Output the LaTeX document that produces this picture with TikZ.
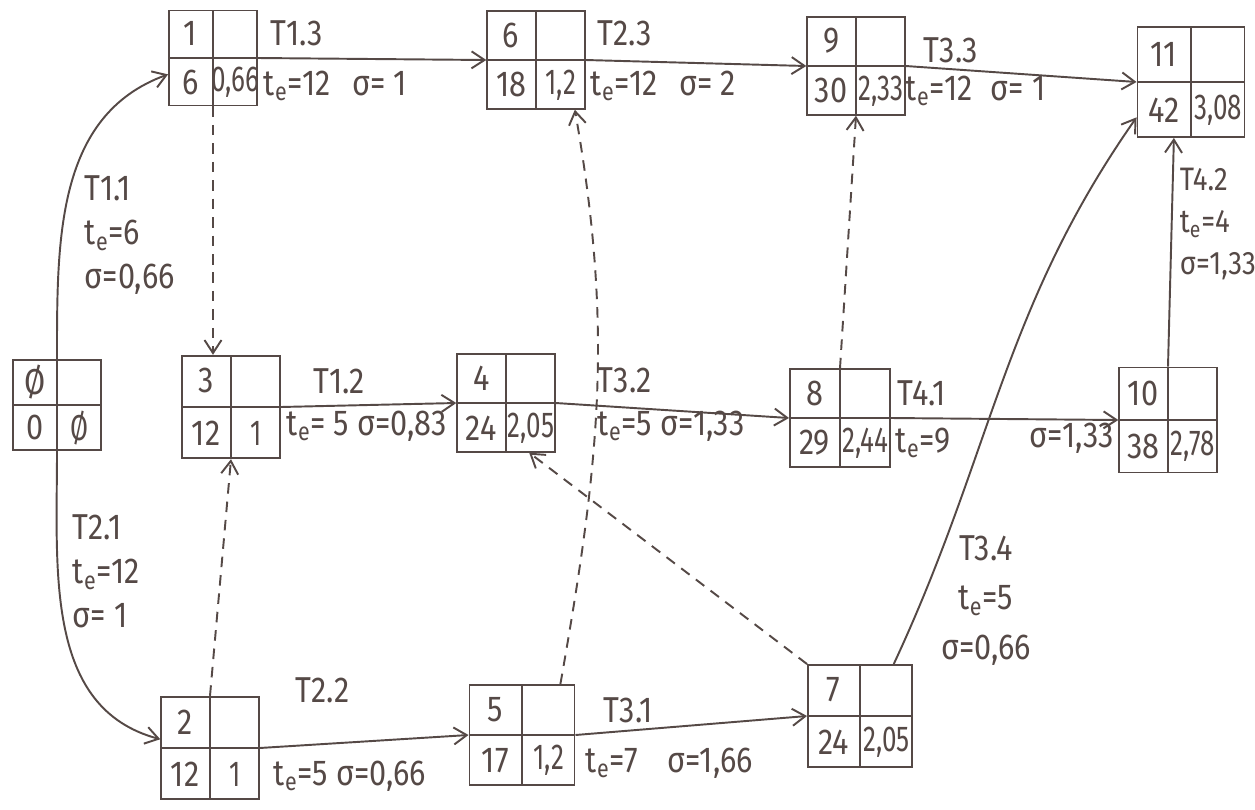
\documentclass[tikz,border=0pt]{standalone}
\usepackage{fontspec}
\setmainfont{Fira Sans}[FakeStretch=0.85]
\usepackage{xcolor}
\usetikzlibrary{arrows.meta,calc,positioning}

\definecolor{pencil}{HTML}{554946}

% one event: 2x2 box with number, earliest time and deviation
\newcommand{\pertevent}[6][]{%
  \node[event,#1] (#2) at (#3) {};
  \node[cell] (#2-id) at ($(#2.center)!0.5!(#2.north west)$) {#4};
  \node[cell] (#2-te) at ($(#2.center)!0.5!(#2.south west)$) {#5};
  \node[cell] (#2-sd) at ($(#2.center)!0.5!(#2.south east)$) {\scalebox{0.85}[1]{#6}};
}

\begin{document}
\begin{tikzpicture}[x=0.02cm, y=-0.02cm, >={Straight Barb[length=2.6mm,width=3.4mm]},
    color=pencil, line width=1.1pt,
    every node/.style={font=\fontsize{20.5}{25}\selectfont},
    event/.style={draw, minimum width=1.95cm, minimum height=1.95cm, inner sep=0pt,
      path picture={\draw (path picture bounding box.north) -- (path picture bounding box.south);
                    \draw (path picture bounding box.west) -- (path picture bounding box.east);}},
    cell/.style={inner sep=0pt},
    lbl/.style={inner sep=0pt, anchor=west},
    block/.style={inner sep=0pt, anchor=north west, align=left},
    dummy/.style={->, dash pattern=on 6pt off 4.5pt}]
    \useasboundingbox (0,0) rectangle (1255,809);

    % events
    \pertevent[minimum width=1.75cm, minimum height=1.8cm]{n0}{57,405}{Ø}{0}{Ø}
    \pertevent[minimum width=1.76cm, minimum height=1.9cm]{n1}{213,58}{1}{6}{0,66}
    \pertevent{n6}{536,60}{6}{18}{1,2}
    \pertevent{n9}{856,66}{9}{30}{2,33}
    \pertevent[minimum width=2.14cm, minimum height=2.2cm]{n11}{1191,82}{11}{42}{3,08}
    \pertevent[minimum height=2.05cm]{n3}{231,407}{3}{12}{1}
    \pertevent{n4}{506,403}{4}{24}{2,05}
    \pertevent[minimum width=2cm]{n8}{840,418}{8}{29}{2,44}
    \pertevent[minimum height=2.1cm]{n10}{1168,420}{10}{38}{2,78}
    \pertevent[minimum height=2.05cm]{n2}{210,748}{2}{12}{1}
    \pertevent[minimum width=2.1cm, minimum height=2cm]{n5}{522,735}{5}{17}{1,2}
    \pertevent[minimum width=2.08cm, minimum height=2.04cm]{n7}{860,716}{7}{24}{2,05}

    % activities
    \draw [->] (n0.north) to[out=90, in=200] (n1.200);
    \draw [->] (n0.south) to[out=-90, in=165] (n2.170);
    \draw [->] (n1.east) -- (n6.west);
    \draw [->] (n6.east) -- (n9.west);
    \draw [->] (n9.east) -- (n11.west);
    \draw [->] (n3.east) -- (n4.west);
    \draw [->] (n4.east) -- (n8.west);
    \draw [->] (n8.east) -- (n10.west);
    \draw [->] (n10.north) -- (n11.-107);
    \draw [->] (n2.east) -- (n5.west);
    \draw [->] (n5.east) -- (n7.west);
    \draw [->] (n7.57) to[out=65, in=235] (n11.213);

    % dummy activities
    \draw [dummy] (n1.south) -- (n1.south |- n3.north);
    \draw [dummy] (n2.north) -- (n3.south);
    \draw [dummy] (n8.north) -- (n9.south);
    \draw [dummy] (n5.53) to[out=80, in=-80] (n6.-52);
    \draw [dummy] (n7.north west) -- (n4.-65);

    % labels
    \node [block] (b11) at (84,175) {T1.1\\t\textsubscript{e}=6\\σ=0,66};
    \node [block] (b21) at (72,514) {T2.1\\t\textsubscript{e}=12\\σ= 1};
    \node [block, font=\fontsize{18.5}{24}\selectfont] (b42) at (1179,167) {T4.2\\t\textsubscript{e}=4\\σ=1,33};
    \node [block, anchor=north, align=center, font=\fontsize{20.5}{28}\selectfont] (b34) at (986,535) {T3.4\\t\textsubscript{e}=5\\σ=0,66};
    \node [lbl] (t13) at (270,33) {T1.3};
    \node [lbl] (e13) at (263,86) {t\textsubscript{e}=12\hspace{0.6em}σ= 1};
    \node [lbl] (t23) at (597,33) {T2.3};
    \node [lbl] (e23) at (590,86) {t\textsubscript{e}=12\hspace{0.6em}σ= 2};
    \node [lbl] (t33) at (923,50) {T3.3};
    \node [lbl] (e33) at (905,91) {t\textsubscript{e}=12\hspace{0.5em}σ= 1};
    \node [lbl] (t12) at (313,381) {T1.2};
    \node [lbl] (e12) at (286,426) {t\textsubscript{e}= 5 σ=0,83};
    \node [lbl] (t32) at (597,380) {T3.2};
    \node [lbl] (e32) at (597,426) {t\textsubscript{e}=5 σ=1,33};
    \node [lbl] (t41) at (897,393) {T4.1};
    \node [lbl] (e41) at (895,443) {t\textsubscript{e}=9};
    \node [lbl, anchor=east] (s41) at (1115,438) {σ=1,33};
    \node [lbl] (t22) at (295,690) {T2.2};
    \node [lbl] (e22) at (273,776) {t\textsubscript{e}=5 σ=0,66};
    \node [lbl] (t31) at (603,710) {T3.1};
    \node [lbl] (e31) at (585,763) {t\textsubscript{e}=7\hspace{0.8em}σ=1,66};
\end{tikzpicture}
\end{document}
